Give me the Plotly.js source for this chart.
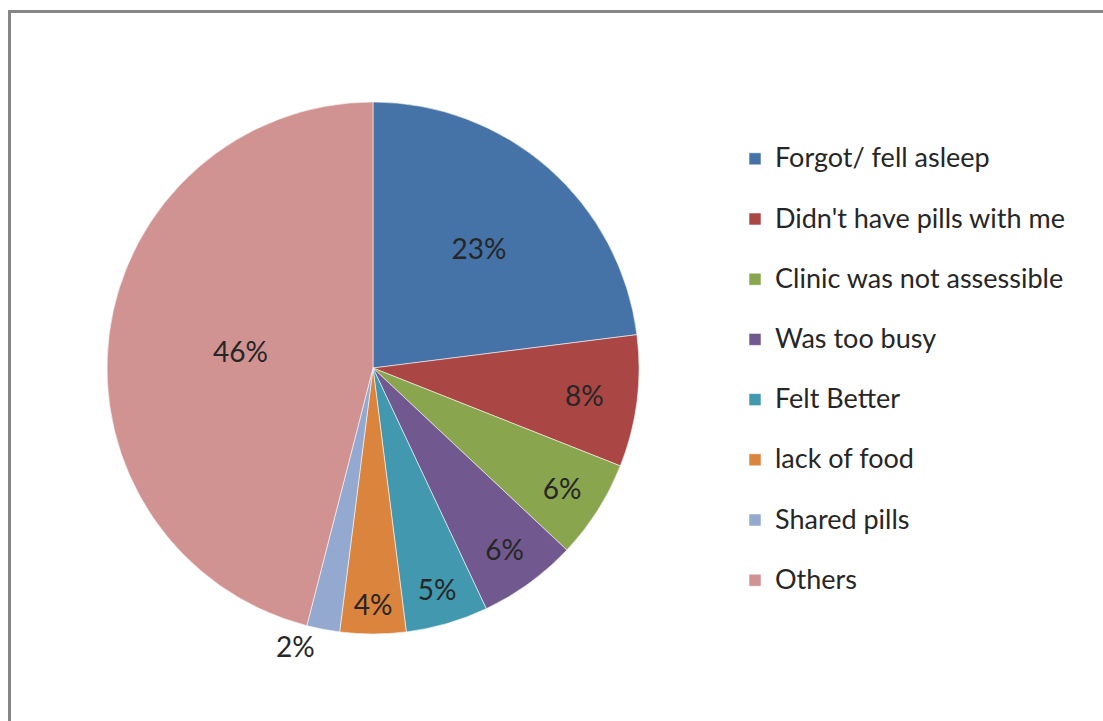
<!DOCTYPE html>
<html>
<head>
<meta charset="utf-8">
<script src="https://cdn.plot.ly/plotly-3.0.1.min.js"></script>
<style>
  html, body { margin: 0; padding: 0; background: #ffffff; }
  #chart { width: 1103px; height: 721px; }
</style>
</head>
<body>
<div id="chart"></div>
<script>
// Data
const categories = [
  "Forgot/ fell asleep",
  "Didn't have pills with me",
  "Clinic was not assessible",
  "Was too busy",
  "Felt Better",
  "lack of food",
  "Shared pills",
  "Others"
];
const values = [23, 8, 6, 6, 5, 4, 2, 46];
const colors = ["#4572A7", "#AA4643", "#89A54E", "#71588F", "#4198AF", "#DB843D", "#93A9CF", "#D19392"];
const textPositions = ["inside", "inside", "inside", "inside", "inside", "inside", "outside", "inside"];

// legend labels: larger text plus an extra blank line so entries are spaced like the original
const legendLabels = categories.map(c => "<span style='font-size:27px'>" + c + "</span><br>&nbsp;");

const W = 1103, H = 721;
const cx = 373, cy = 368, R = 266;

const trace = {
  type: "pie",
  labels: legendLabels,
  values: values,
  sort: false,
  direction: "clockwise",
  rotation: 0,
  textinfo: "percent",
  textposition: textPositions,
  insidetextorientation: "horizontal",
  texttemplate: "%{percent:.0%}",
  textfont: { family: "Lato, 'Noto Sans', sans-serif", size: 28, color: "#262626" },
  marker: { colors: colors, line: { color: "rgba(255,255,255,0.55)", width: 1 } },
  hovertemplate: "%{value}%<extra></extra>",
  domain: {
    x: [(cx - R) / W, (cx + R) / W],
    y: [1 - (cy + R) / H, 1 - (cy - R) / H]
  },
  showlegend: true
};

const layout = {
  width: W,
  height: H,
  margin: { l: 0, r: 0, t: 0, b: 0, autoexpand: false },
  paper_bgcolor: "#ffffff",
  plot_bgcolor: "#ffffff",
  font: { family: "Lato, 'Noto Sans', sans-serif", color: "#262626" },
  showlegend: true,
  legend: {
    x: 735 / W,
    xanchor: "left",
    y: 1 - 138 / H,
    yanchor: "top",
    valign: "top",
    font: { family: "Lato, 'Noto Sans', sans-serif", size: 22, color: "#262626" },
    bgcolor: "rgba(0,0,0,0)",
    borderwidth: 0,
    traceorder: "normal"
  },
  shapes: [
    {
      type: "rect", xref: "paper", yref: "paper",
      x0: 9.5 / W, x1: 1.02, y0: -0.02, y1: 1 - 11.5 / H,
      line: { color: "#868686", width: 3 },
      fillcolor: "rgba(0,0,0,0)",
      layer: "below"
    }
  ]
};

Plotly.newPlot("chart", [trace], layout, { displayModeBar: false, staticPlot: true });
</script>
</body>
</html>
